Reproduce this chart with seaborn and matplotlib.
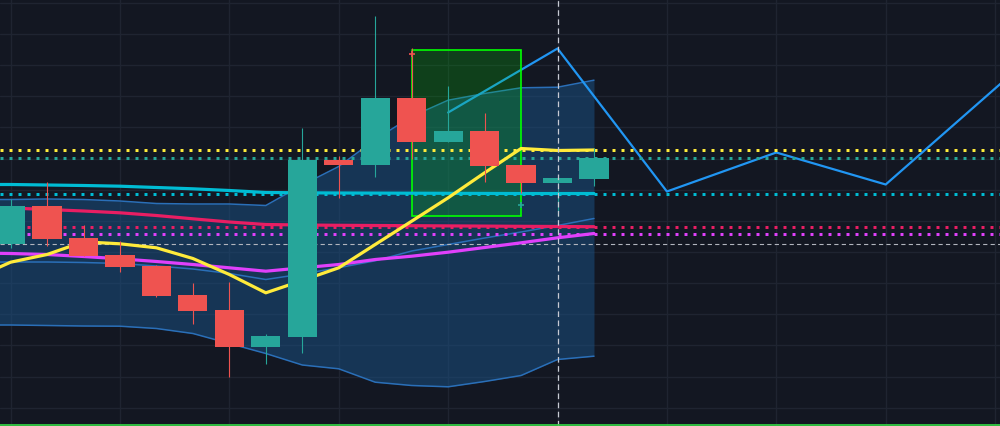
import numpy as np
import pandas as pd
import matplotlib
matplotlib.use("Agg")
import matplotlib.pyplot as plt
import seaborn as sns
from matplotlib.patches import Rectangle

# ---------------- data ----------------
candle_idx = list(range(17))
opens  = [183, 221, 189, 172, 161, 132, 117, 80, 90, 267, 262, 329, 285, 296, 262, 244, 248]
highs  = [228, 245, 202, 186, 162, 144, 145, 93, 299, 271, 411, 379, 341, 314, 262, 249, 279]
lows   = [179, 181, 171, 155, 130, 103, 50, 63, 74, 229, 250, 268, 285, 245, 234, 211, 241]
closes = [221, 188, 171, 160, 131, 116, 80, 91, 267, 262, 329, 285, 296, 261, 244, 249, 269]

ind_idx = list(range(-1, 17))
ma_yellow  = [148, 164.3, 172, 184.7, 182.7, 178.7, 168, 152, 133.7, 146, 158.7, 182, 205.3, 228.7, 253.7, 278, 276, 276.5]
ma_magenta = [173.5, 173, 172, 170, 167.7, 165, 162, 158.7, 155.3, 158.7, 162, 167, 170.3, 174.3, 179, 183.7, 188.7, 193]
ma_pink    = [220, 218.5, 217, 215.5, 213.7, 211, 207.7, 204.5, 202, 201.5, 201.2, 201, 200.8, 200.6, 200.4, 200.2, 200, 199.8]
ma_cyan    = [242, 242, 241.5, 241, 240.3, 239, 237.7, 236, 234, 233.7, 233.5, 233.4, 233.3, 233.2, 233.1, 233, 233, 233]
bb_upper   = [227, 227, 227.5, 227, 225.5, 223, 222.5, 222.5, 221, 241.5, 260, 287, 310, 326.3, 333, 338.7, 339.3, 346.3]
bb_basis   = [164.3, 164.5, 164.5, 164, 163, 160.5, 157.5, 153, 147, 152.5, 158.8, 165.7, 175.5, 182, 188.5, 194.5, 201, 208]
bb_lower   = [101.5, 101.5, 101, 100.5, 100.3, 98, 93, 83, 73, 61.5, 57.7, 44.3, 41, 39.7, 45, 51, 67, 70.3]

proj_idx = [12, 15, 18, 21, 24, 27, 28]
proj_val = [314, 378, 235, 274, 242, 338, 370]

level_vals   = [276.7, 268.7, 232.7, 199.7, 192.7]
level_colors = ["#ffeb3b", "#26a69a", "#00bcd4", "#e91e63", "#e040fb"]
last_price = 183
box_x = [11, 14]
box_y = [211, 377]
entry_mark = (11, 373)
exit_mark = (14, 222)
cursor_idx = 15
base_line = 1.7

# ---------------- styling ----------------
BG = "#131722"
GRID = "#1f2431"
UP, DOWN = "#26a69a", "#ef5350"

sns.set_theme(style="darkgrid", rc={
    "axes.facecolor": BG, "figure.facecolor": BG,
    "grid.color": GRID, "grid.linewidth": 1.0,
    "axes.edgecolor": BG,
})

fig = plt.figure(figsize=(10, 4.27), dpi=100)
ax = fig.add_axes([0, 0, 1, 1])
ax.set_facecolor(BG)

ind = pd.DataFrame({"i": ind_idx, "yellow": ma_yellow, "magenta": ma_magenta,
                    "pink": ma_pink, "cyan": ma_cyan, "up": bb_upper,
                    "mid": bb_basis, "lo": bb_lower})

# Bollinger band
ax.fill_between(ind["i"], ind["lo"], ind["up"], color="#1a4f80", alpha=0.55,
                linewidth=0, zorder=1)
for col in ["up", "mid", "lo"]:
    sns.lineplot(data=ind, x="i", y=col, ax=ax, color="#2a6fb8", linewidth=1.1,
                 zorder=1.5, legend=False)

# projection line
proj = pd.DataFrame({"i": proj_idx, "v": proj_val})
sns.lineplot(data=proj, x="i", y="v", ax=ax, color="#2196f3", linewidth=1.6,
             zorder=2, legend=False)

# green box
ax.add_patch(Rectangle((box_x[0], box_y[0]), box_x[1] - box_x[0], box_y[1] - box_y[0],
                       facecolor=(0.0, 0.9, 0.0, 0.2), edgecolor="#00ff00",
                       linewidth=1.2, zorder=2.5))

# dotted level lines
for v, c in zip(level_vals, level_colors):
    ax.axhline(v, color=c, linewidth=2.16, linestyle=(0, (1, 2)),
               dash_capstyle="butt", zorder=3)
ax.axhline(last_price, color="#b2b5be", linewidth=0.8,
           linestyle=(0, (3.8, 2.9)), zorder=3)

# moving averages
for col, c in [("cyan", "#00bcd4"), ("pink", "#e91e63"),
               ("magenta", "#e040fb"), ("yellow", "#ffeb3b")]:
    sns.lineplot(data=ind, x="i", y=col, ax=ax, color=c, linewidth=2.3,
                 zorder=4, legend=False)

# candles
for i, o, h, l, c in zip(candle_idx, opens, highs, lows, closes):
    col = UP if c >= o else DOWN
    ax.vlines(i, l, h, color=col, linewidth=0.8, zorder=5)
    ax.bar(i, abs(c - o), bottom=min(o, c), width=0.8, color=col,
           linewidth=0, zorder=5.1)

# markers
ax.plot(*entry_mark, marker="+", color="#ef5350", markersize=5, mew=1.2, zorder=6)
ax.plot(*exit_mark, marker="+", color="#26a69a", markersize=5, mew=1.2, zorder=6)

# cursor & base line
ax.axvline(cursor_idx, color="#c8cbd4", linewidth=0.9,
           linestyle=(0, (4.5, 2.8)), zorder=6)
ax.axhline(base_line, color="#33cc44", linewidth=1.3, zorder=6)

ax.set_xlim(-0.29, 27.135)
ax.set_ylim(0.5, 427.5)
ax.set_xticks(np.arange(0, 28, 3))
ax.set_yticks(np.arange(18.72, 427, 31.15))
ax.tick_params(length=0, labelbottom=False, labelleft=False)
ax.set_xlabel("")
ax.set_ylabel("")
ax.grid(True, color=GRID, linewidth=1.0)
ax.set_axisbelow(True)
for s in ax.spines.values():
    s.set_visible(False)

fig.savefig("out.png", dpi=100, facecolor=BG)
